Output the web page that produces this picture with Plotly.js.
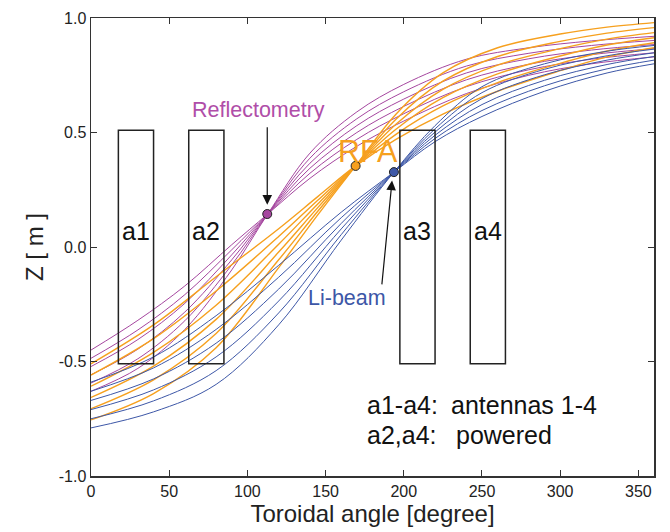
<!DOCTYPE html>
<html><head><meta charset="utf-8">
<script src="https://cdn.plot.ly/plotly-3.0.1.min.js"></script>
<style>html,body{margin:0;padding:0;background:#fff}</style>
</head><body><div id="chart" style="width:670px;height:532px"></div>
<script>
// Field lines traced toward each diagnostic (toroidal angle in degrees, Z in m)
const purpleX = [0, 30, 60, 90, 113, 140, 170, 200, 240, 280, 320, 360];
const purpleZ = [
  [-0.630, -0.530, -0.360, -0.100, 0.144, 0.410, 0.590, 0.710, 0.820, 0.870, 0.900, 0.920],
  [-0.594, -0.488, -0.322, -0.078, 0.144, 0.388, 0.560, 0.678, 0.790, 0.846, 0.880, 0.902],
  [-0.558, -0.446, -0.284, -0.056, 0.144, 0.366, 0.530, 0.646, 0.760, 0.822, 0.860, 0.884],
  [-0.522, -0.404, -0.246, -0.034, 0.144, 0.344, 0.500, 0.614, 0.730, 0.798, 0.840, 0.866],
  [-0.486, -0.362, -0.208, -0.012, 0.144, 0.322, 0.470, 0.582, 0.700, 0.774, 0.820, 0.848],
  [-0.450, -0.320, -0.170, 0.010, 0.144, 0.300, 0.440, 0.550, 0.670, 0.750, 0.800, 0.830]
];
const orangeX = [0, 40, 80, 120, 145, 169.2, 195, 225, 260, 300, 330, 360];
const orangeZ = [
  [-0.755, -0.640, -0.440, -0.090, 0.140, 0.354, 0.580, 0.760, 0.870, 0.930, 0.960, 0.980],
  [-0.706, -0.580, -0.378, -0.056, 0.156, 0.354, 0.558, 0.724, 0.832, 0.898, 0.934, 0.958],
  [-0.657, -0.520, -0.316, -0.022, 0.172, 0.354, 0.536, 0.688, 0.794, 0.866, 0.908, 0.936],
  [-0.608, -0.460, -0.254, 0.012, 0.188, 0.354, 0.514, 0.652, 0.756, 0.834, 0.882, 0.914],
  [-0.559, -0.400, -0.192, 0.046, 0.204, 0.354, 0.492, 0.616, 0.718, 0.802, 0.856, 0.892],
  [-0.510, -0.340, -0.130, 0.080, 0.220, 0.354, 0.470, 0.580, 0.680, 0.770, 0.830, 0.870]
];
const blueX = [0, 40, 80, 120, 160, 193.7, 220, 250, 290, 330, 360];
const blueZ = [
  [-0.790, -0.720, -0.600, -0.340, 0.030, 0.327, 0.530, 0.700, 0.800, 0.855, 0.880],
  [-0.750, -0.672, -0.540, -0.288, 0.054, 0.327, 0.516, 0.674, 0.776, 0.835, 0.864],
  [-0.710, -0.624, -0.480, -0.236, 0.079, 0.327, 0.502, 0.648, 0.752, 0.816, 0.848],
  [-0.670, -0.576, -0.420, -0.184, 0.103, 0.327, 0.488, 0.622, 0.728, 0.797, 0.832],
  [-0.630, -0.528, -0.360, -0.132, 0.128, 0.327, 0.474, 0.596, 0.704, 0.778, 0.816],
  [-0.590, -0.480, -0.300, -0.080, 0.152, 0.327, 0.460, 0.570, 0.680, 0.760, 0.800]
];
const diagNames = ['Reflectometry', 'RFA', 'Li-beam'];
const diagX = [112.7, 169.2, 193.7];
const diagZ = [0.144, 0.354, 0.327];
const antennaNames = ['a1', 'a2', 'a3', 'a4'];
const antennaStart = [17.5, 62.5, 197.5, 242.5];
const antennaEnd = [40, 85, 220, 265];
const antennaBottom = [-0.51, -0.51, -0.51, -0.51];
const antennaTop = [0.51, 0.51, 0.51, 0.51];
const xTickVals = [0, 50, 100, 150, 200, 250, 300, 350];
const yTickVals = [-1, -0.5, 0, 0.5, 1];
const yTickText = ['-1.0', '-0.5', '0.0', '0.5', '1.0'];

const PURPLE = '#A5469F', ORANGE = '#F6A01E', BLUE = '#3D57A7';
const FONT = 'Liberation Sans, Arial, Helvetica, sans-serif';
const traces = [];
function addFamily(xs, zs, color, width) {
  zs.forEach(z => traces.push({
    x: xs, y: z, type: 'scatter', mode: 'lines',
    line: {color: color, width: width, shape: 'spline', smoothing: 1},
    hoverinfo: 'skip', showlegend: false
  }));
}
addFamily(purpleX, purpleZ, PURPLE, 1);
addFamily(orangeX, orangeZ, ORANGE, 1.4);
addFamily(blueX, blueZ, BLUE, 1);
traces.push({
  x: diagX, y: diagZ, type: 'scatter', mode: 'markers', showlegend: false,
  marker: {size: 9, color: [PURPLE, ORANGE, BLUE], line: {color: '#222', width: 1}}
});

const shapes = antennaNames.map((n, i) => ({
  type: 'rect', xref: 'x', yref: 'y',
  x0: antennaStart[i], x1: antennaEnd[i], y0: antennaBottom[i], y1: antennaTop[i],
  line: {color: '#222', width: 1.5}, fillcolor: 'rgba(0,0,0,0)', layer: 'above'
}));

const annotations = antennaNames.map((n, i) => ({
  x: (antennaStart[i] + antennaEnd[i]) / 2, y: 0.07, xref: 'x', yref: 'y',
  text: n, showarrow: false, font: {family: FONT, size: 25, color: '#111'}
}));
annotations.push(
  {x: 107.4, y: 0.60, xref: 'x', yref: 'y', text: diagNames[0], showarrow: false,
   font: {family: FONT, size: 21.5, color: '#B04EA8'}},
  {x: 112.7, y: 0.185, xref: 'x', yref: 'y', ax: 112.7, ay: 0.53, axref: 'x', ayref: 'y',
   text: '', showarrow: true, arrowhead: 2, arrowsize: 1.6, arrowwidth: 1.2, arrowcolor: '#111'},
  {x: 176.8, y: 0.42, xref: 'x', yref: 'y', text: diagNames[1], showarrow: false,
   font: {family: FONT, size: 30.5, color: ORANGE}},
  {x: 163.8, y: -0.223, xref: 'x', yref: 'y', text: diagNames[2], showarrow: false,
   font: {family: FONT, size: 21.5, color: BLUE}},
  {x: 192.5, y: 0.29, xref: 'x', yref: 'y', ax: 185.9, ay: -0.17, axref: 'x', ayref: 'y',
   text: '', showarrow: true, arrowhead: 2, arrowsize: 1.6, arrowwidth: 1.2, arrowcolor: '#111'},
  {x: 175, y: -0.69, xref: 'x', yref: 'y', xanchor: 'left', text: 'a1-a4:', showarrow: false,
   font: {family: FONT, size: 25, color: '#111'}},
  {x: 229, y: -0.69, xref: 'x', yref: 'y', xanchor: 'left', text: 'antennas 1-4', showarrow: false,
   font: {family: FONT, size: 25, color: '#111'}},
  {x: 175, y: -0.82, xref: 'x', yref: 'y', xanchor: 'left', text: 'a2,a4:', showarrow: false,
   font: {family: FONT, size: 25, color: '#111'}},
  {x: 232, y: -0.82, xref: 'x', yref: 'y', xanchor: 'left', text: 'powered', showarrow: false,
   font: {family: FONT, size: 25, color: '#111'}}
);

const axisCommon = {
  showgrid: false, zeroline: false, showline: true, linecolor: '#333', linewidth: 1.5,
  mirror: 'ticks', ticks: 'inside', ticklen: 6, tickwidth: 1, tickcolor: '#333',
  tickfont: {family: FONT, size: 16, color: '#222'}
};
const layout = {
  width: 670, height: 532,
  margin: {l: 91, r: 16, t: 18, b: 56},
  paper_bgcolor: '#fff', plot_bgcolor: '#fff',
  showlegend: false,
  xaxis: Object.assign({}, axisCommon, {
    range: [0, 360], tickvals: xTickVals,
    title: {text: 'Toroidal angle [degree]', font: {family: FONT, size: 24, color: '#222'}, standoff: 4}
  }),
  yaxis: Object.assign({}, axisCommon, {
    range: [-1, 1], tickvals: yTickVals, ticktext: yTickText,
    title: {text: 'Z [ m ]', font: {family: FONT, size: 24, color: '#222'}, standoff: 8}
  }),
  shapes: shapes, annotations: annotations
};
Plotly.newPlot('chart', traces, layout, {displayModeBar: false, staticPlot: true});
</script></body></html>
